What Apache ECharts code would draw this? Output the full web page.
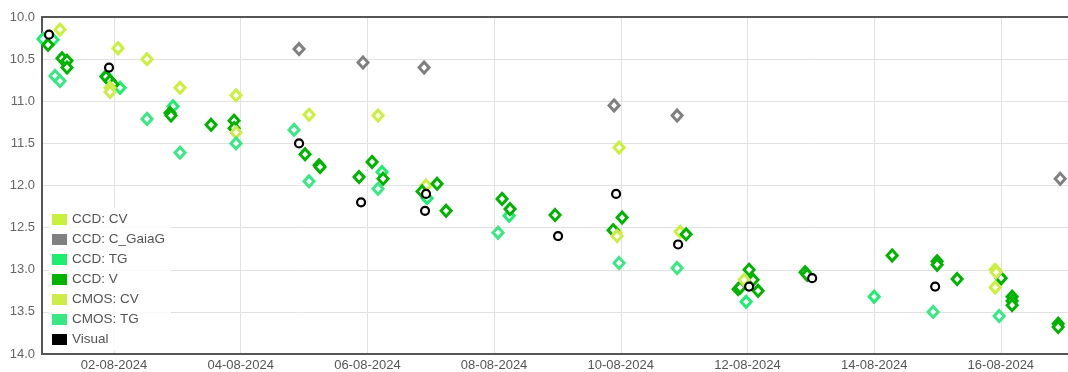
<!DOCTYPE html>
<html>
<head>
<meta charset="utf-8">
<script src="https://cdn.jsdelivr.net/npm/echarts@6/dist/echarts.min.js"></script>
<style>
  html, body { margin: 0; padding: 0; background: #fff; }
  #chart { width: 1068px; height: 372px; }
</style>
</head>
<body>
<div id="chart"></div>
<script>
// x = day of August 2024 (fractional), y = magnitude
const seriesNames = ['CCD: CV', 'CCD: C_GaiaG', 'CCD: TG', 'CCD: V', 'CMOS: CV', 'CMOS: TG', 'Visual'];
const seriesColors = ['#c9f03a', '#808080', '#1eee70', '#00b300', '#cdec4a', '#38e883', '#000000'];

const ccdCV = [
  [1.147, 10.15], [2.063, 10.37], [2.521, 10.50], [3.042, 10.84], [3.926, 10.93],
  [5.079, 11.16], [6.168, 11.17], [9.973, 11.55], [6.926, 12.00], [9.926, 12.56],
  [10.937, 12.55], [15.910, 13.00], [15.910, 13.21]
];
const ccdGaiaG = [
  [4.921, 10.38], [5.931, 10.54], [6.895, 10.60], [9.894, 11.05], [10.889, 11.17], [16.937, 11.92]
];
const ccdTG = [
  [0.879, 10.26], [1.037, 10.27], [2.095, 10.84], [1.874, 10.70], [2.932, 11.06],
  [6.231, 11.84], [6.942, 12.15], [8.237, 12.36], [11.979, 13.38], [14.000, 13.32]
];
const ccdV = [
  [0.958, 10.33], [1.179, 10.49], [1.258, 10.52], [1.258, 10.60], [1.874, 10.71],
  [1.937, 10.76], [1.984, 10.80], [2.884, 11.14], [2.900, 11.17], [3.532, 11.28],
  [3.895, 11.23], [3.895, 11.32], [5.016, 11.63], [5.237, 11.76], [5.253, 11.78],
  [5.868, 11.90], [6.074, 11.72], [6.247, 11.92], [6.863, 12.07], [7.100, 11.98],
  [7.242, 12.30], [8.126, 12.16], [8.252, 12.28], [8.963, 12.35], [9.879, 12.53],
  [10.021, 12.38], [11.031, 12.58], [11.852, 13.23], [11.884, 13.21], [12.026, 13.00],
  [12.089, 13.12], [12.168, 13.25], [12.910, 13.03], [12.942, 13.06], [14.284, 12.83],
  [14.994, 12.90], [14.994, 12.94], [15.310, 13.11], [16.005, 13.10], [16.178, 13.32],
  [16.178, 13.37], [16.178, 13.42], [16.905, 13.64], [16.905, 13.68]
];
const cmosCV = [
  [1.937, 10.84], [1.937, 10.89], [3.926, 11.37], [9.942, 12.60], [11.947, 13.12], [15.926, 13.03]
];
const cmosTG = [
  [1.068, 10.70], [1.147, 10.76], [2.521, 11.21], [3.042, 11.61], [3.926, 11.50],
  [4.842, 11.34], [5.079, 11.95], [6.168, 12.04], [8.063, 12.56], [9.973, 12.92],
  [10.889, 12.98], [14.931, 13.50], [15.973, 13.55]
];
const visual = [
  [0.974, 10.21], [1.921, 10.60], [4.921, 11.50], [5.900, 12.20], [6.926, 12.10],
  [6.910, 12.30], [9.010, 12.60], [9.926, 12.10], [10.905, 12.70], [12.026, 13.20],
  [13.021, 13.10], [14.963, 13.20]
];
const allData = [ccdCV, ccdGaiaG, ccdTG, ccdV, cmosCV, cmosTG, visual];

// x tick positions (day of August) and labels
const xTickDays = [2, 4, 6, 8, 10, 12, 14, 16];
const xMin = 0.863, xMax = 17.06;
const yMin = 10, yMax = 14;

function dayLabel(v) {
  const r = Math.round(v);
  return (r < 10 ? '0' + r : '' + r) + '-08-2024';
}

const FONT = '"Liberation Sans", Arial, sans-serif';
const chart = echarts.init(document.getElementById('chart'), null, { renderer: 'canvas' });

const series = seriesNames.map((name, i) => {
  const isVisual = name === 'Visual';
  return {
    name: name,
    type: 'scatter',
    data: allData[i],
    symbol: isVisual ? 'circle' : 'diamond',
    symbolSize: isVisual ? 8 : [10, 11],
    itemStyle: {
      color: '#ffffff',
      borderColor: seriesColors[i],
      borderWidth: isVisual ? 2.2 : 3,
      opacity: 1
    },
    emphasis: { disabled: true },
    z: 3
  };
});

chart.setOption({
  animation: false,
  backgroundColor: '#ffffff',
  grid: { left: 42, right: 0, top: 17, bottom: 18, containLabel: false },
  xAxis: [{
    type: 'value',
    min: xMin, max: xMax,
    axisLine: { show: true, lineStyle: { color: '#555', width: 2 } },
    axisTick: { show: false, customValues: xTickDays },
    axisLabel: { customValues: xTickDays, formatter: dayLabel, color: '#555', fontSize: 13, fontFamily: FONT, margin: 5 },
    splitLine: { show: true, lineStyle: { color: '#e2e2e2', width: 1 } }
  }, {
    type: 'value', position: 'top',
    min: xMin, max: xMax,
    axisLine: { show: true, onZero: false, lineStyle: { color: '#555', width: 2 } },
    axisTick: { show: false }, axisLabel: { show: false }, splitLine: { show: false }
  }],
  yAxis: {
    type: 'value', inverse: true,
    min: yMin, max: yMax, interval: 0.5,
    axisLine: { show: true, lineStyle: { color: '#555', width: 2 } },
    axisTick: { show: false },
    axisLabel: { formatter: v => v.toFixed(1), color: '#666', fontSize: 13, fontFamily: FONT, margin: 7 },
    splitLine: { show: true, lineStyle: { color: '#e2e2e2', width: 1 } }
  },
  legend: {
    orient: 'vertical',
    left: 49, top: 208,
    padding: [4, 6, 4, 3],
    backgroundColor: 'rgba(255,255,255,0.85)',
    itemWidth: 15, itemHeight: 11, itemGap: 5,
    icon: 'rect',
    textStyle: { color: '#555', fontSize: 13.5, lineHeight: 15, fontFamily: FONT },
    data: seriesNames.map((n, i) => ({ name: n, icon: 'rect', itemStyle: { color: seriesColors[i], borderWidth: 0 } })),
    z: 10
  },
  series: series
});
</script>
</body>
</html>
